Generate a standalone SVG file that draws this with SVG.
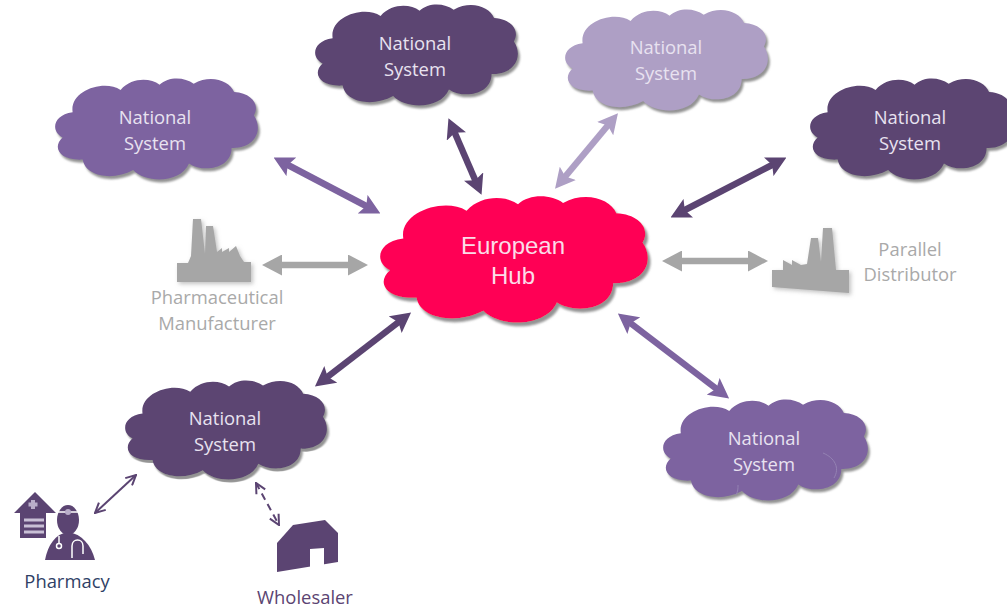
<svg xmlns="http://www.w3.org/2000/svg" width="1007" height="612" viewBox="0 0 1007 612">
<style>
text{font-family:"Open Sans","Liberation Sans",sans-serif;text-anchor:middle}
.cl{font-size:18.400px;fill:#e8e2f0}
.hub{font-family:"Liberation Sans",Arial,sans-serif;font-size:24px;fill:#fbdce8}
.g{font-size:18.400px;fill:#a9a9a9}
.dark{fill:#5b4472}.mid{fill:#7d63a0}.lite{fill:#ae9fc5}.red{fill:#ff0055}
.fac{fill:#a6a6a6;filter:url(#fs)}
.ar{fill:none;stroke-width:6.500}
.thin{fill:none;stroke:#5b4472;stroke-width:2}
.wl{fill:none;stroke:#fff;stroke-width:1.500}
</style>
<defs>
<filter id="ds" x="-10%" y="-10%" width="125%" height="130%"><feDropShadow dx="2" dy="3" stdDeviation=".8" flood-color="#808080" flood-opacity=".85"/></filter>
<filter id="fs" x="-10%" y="-10%" width="125%" height="130%"><feDropShadow dx="2" dy="2" stdDeviation="2" flood-color="#999" flood-opacity=".6"/></filter>
<path id="cloud" d="M7.500 58.500C-4 53-3 36 17.400 33.200C14 12 48 0 64.600 10.900C76-2 94-1 103 5.700C112-3 128-2 136.600 4.700C154-5 172 2 176.400 13C194 14 202 26 196 36.400C206 52 196 70 174 69C174 90 146 94 132 84.400C124 104 90 105 77 91C58 102 30 98 27.300 80.600C4 82-3 68 7.500 58.500Z"/>
<marker id="hm" viewBox="0 0 20 21" markerUnits="userSpaceOnUse" markerWidth="20" markerHeight="21" refX="6" refY="10.500" orient="auto-start-reverse"><path class="mid" d="M0 0L20 10.500L0 21L4 10.500Z"/></marker>
<marker id="hl" viewBox="0 0 20 21" markerUnits="userSpaceOnUse" markerWidth="20" markerHeight="21" refX="6" refY="10.500" orient="auto-start-reverse"><path class="lite" d="M0 0L20 10.500L0 21L4 10.500Z"/></marker>
<marker id="hk" viewBox="0 0 20 21" markerUnits="userSpaceOnUse" markerWidth="20" markerHeight="21" refX="6" refY="10.500" orient="auto-start-reverse"><path class="dark" d="M0 0L20 10.500L0 21L4 10.500Z"/></marker>
<marker id="hg" viewBox="0 0 20 21" markerUnits="userSpaceOnUse" markerWidth="20" markerHeight="21" refX="6" refY="10.500" orient="auto-start-reverse"><path fill="#a6a6a6" d="M0 0L20 10.500L0 21Z"/></marker>
<marker id="v" viewBox="0 0 12 12" markerUnits="userSpaceOnUse" markerWidth="12" markerHeight="12" refX="11" refY="6" orient="auto-start-reverse"><path d="M1 1L11 6L1 11" fill="none" stroke="#5b4472" stroke-width="2"/></marker>
</defs>
<rect width="1007" height="612" fill="#fff"/>
<g id="connectors">
<line class="ar" stroke="#7d63a0" x1="286" y1="164" x2="368" y2="207" marker-start="url(#hm)" marker-end="url(#hm)"/>
<line class="ar" stroke="#5b4472" x1="454" y1="131" x2="476" y2="182" marker-start="url(#hk)" marker-end="url(#hk)"/>
<line class="ar" stroke="#ae9fc5" x1="609" y1="124" x2="564" y2="178" marker-start="url(#hl)" marker-end="url(#hl)"/>
<line class="ar" stroke="#5b4472" x1="774" y1="164" x2="683" y2="211" marker-start="url(#hk)" marker-end="url(#hk)"/>
<line class="ar" stroke="#a6a6a6" x1="276" y1="265" x2="354" y2="265" marker-start="url(#hg)" marker-end="url(#hg)"/>
<line class="ar" stroke="#a6a6a6" x1="676" y1="261" x2="754" y2="261" marker-start="url(#hg)" marker-end="url(#hg)"/>
<line class="ar" stroke="#5b4472" x1="326" y1="378" x2="400" y2="321" marker-start="url(#hk)" marker-end="url(#hk)"/>
<line class="ar" stroke="#7d63a0" x1="629" y1="322" x2="718" y2="390" marker-start="url(#hm)" marker-end="url(#hm)"/>
<line class="thin" x1="95" y1="513" x2="136" y2="475" marker-start="url(#v)" marker-end="url(#v)"/>
<line class="thin" stroke-dasharray="7 5" x1="256" y1="483" x2="279" y2="525" marker-start="url(#v)" marker-end="url(#v)"/>
</g>
<g id="hub"><use href="#cloud" class="red" filter="url(#ds)" transform="translate(380 197) scale(1.34 1.25)"/><text class="hub" x="513" y="254">European</text><text class="hub" x="513" y="284">Hub</text></g>
<g id="ns-top-left"><use href="#cloud" class="mid" filter="url(#ds)" transform="translate(55 79) scale(1.015 1)"/><text class="cl" x="155" y="124">National</text><text class="cl" x="155" y="150">System</text></g>
<g id="ns-top"><use href="#cloud" class="dark" filter="url(#ds)" transform="translate(315 5) scale(1.015 1)"/><text class="cl" x="415" y="50">National</text><text class="cl" x="415" y="76">System</text></g>
<g id="ns-top-right"><use href="#cloud" class="lite" filter="url(#ds)" transform="translate(565 10) scale(1.015 1)"/><text class="cl" x="666" y="54">National</text><text class="cl" x="666" y="80">System</text></g>
<g id="ns-right"><use href="#cloud" class="dark" filter="url(#ds)" transform="translate(810 79) scale(1.015 1)"/><text class="cl" x="910" y="124">National</text><text class="cl" x="910" y="150">System</text></g>
<g id="ns-lower-left"><use href="#cloud" class="dark" filter="url(#ds)" transform="translate(125 381) scale(1.01 .98)"/><text class="cl" x="225" y="425">National</text><text class="cl" x="225" y="451">System</text></g>
<g id="ns-lower-right"><use href="#cloud" class="mid" filter="url(#ds)" transform="translate(663 400) scale(1.025 1)"/><path d="M823 453C835 458 840 468 834 478M738 485C738 489 738 491 736 495" fill="none" stroke="#9482b3" stroke-width="1"/><text class="cl" x="764" y="445">National</text><text class="cl" x="764" y="471">System</text></g>
<g id="manufacturer"><path class="fac" d="M177 282V263H188L191 256L193 219H201L205 254L206 226H213L217 252L222 248V252L229 248V252L236 246L240 256L244 262H251V282Z"/><text class="g" x="217" y="304">Pharmaceutical</text><text class="g" x="217" y="330">Manufacturer</text></g>
<g id="distributor"><path class="fac" d="M772 287V270H783V260L792 265V260L801 265L807 264L811 238H818L821 262L823 228H832L836 270H849V293Z"/><text class="g" x="910" y="256">Parallel</text><text class="g" x="910" y="281">Distributor</text></g>
<g id="pharmacy">
<path class="dark" d="M14 513L35 492L56 513H46V538H20V513Z"/>
<path d="M24 520H44M24 526H44M24 532H44" stroke="#c9c0d6" stroke-width="3" fill="none"/>
<path d="M33 500V509M28.500 504.500H37.500" stroke="#b9adc9" stroke-width="4"/>
<ellipse class="dark" cx="68" cy="520" rx="11" ry="15"/>
<path class="dark" d="M45 560C48 545 55 534 68 532C82 534 91 545 95 560Z"/>
<path d="M58 512H80" stroke="#fff" stroke-width="1.500"/><circle cx="68" cy="512" r="3" fill="#b9adc9"/>
<path class="wl" d="M59 536V544M72 558V546C72 538 83 538 83 546V554"/><circle class="wl" cx="59" cy="546" r="2.500"/>
<text x="67" y="588" font-size="18.400" fill="#2f3f66">Pharmacy</text></g>
<g id="wholesaler"><path class="dark" d="M277 543L293 525L325 520L338 533V562L277 572Z"/><path d="M310 549L324 548V567L310 569Z" fill="#fff"/><text x="305" y="604" font-size="18.400" fill="#5b4472">Wholesaler</text></g>
</svg>
